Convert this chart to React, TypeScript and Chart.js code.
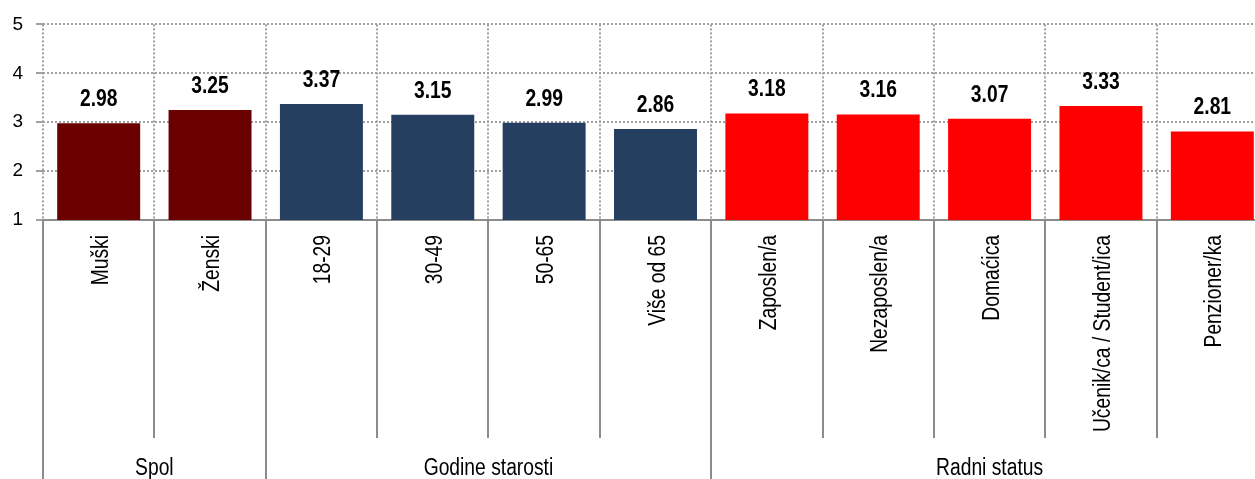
import React, { useEffect, useRef } from "react";
import { Chart, registerables } from "chart.js";

Chart.register(...registerables);

const categories = [
  "Muški", "Ženski",
  "18-29", "30-49", "50-65", "Više od 65",
  "Zaposlen/a", "Nezaposlen/a", "Domaćica", "Učenik/ca / Student/ica", "Penzioner/ka",
];
const values = [2.98, 3.25, 3.37, 3.15, 2.99, 2.86, 3.18, 3.16, 3.07, 3.33, 2.81];
const groupNames = ["Spol", "Godine starosti", "Radni status"];
const groupSizes = [2, 4, 5];
const groupColors = ["#6B0000", "#243F60", "#FF0000"];
const yTicks = [1, 2, 3, 4, 5];

const FONT = "'Liberation Sans', Arial, sans-serif";
const NARROW = 0.82;

const barColors: string[] = [];
groupSizes.forEach((n, g) => {
  for (let i = 0; i < n; i++) barColors.push(groupColors[g]);
});

function narrowText(ctx: any, text: string, x: number, y: number, rotate: boolean, align: string) {
  ctx.save();
  ctx.translate(x, y);
  if (rotate) ctx.rotate(-Math.PI / 2);
  ctx.scale(NARROW, 1);
  ctx.textAlign = align;
  ctx.textBaseline = "alphabetic";
  ctx.fillText(text, 0, 0);
  ctx.restore();
}

const overlayPlugin = {
  id: "overlay",
  afterDatasetsDraw(chart: any) {
    const ctx = chart.ctx;
    const meta = chart.getDatasetMeta(0);
    ctx.save();
    ctx.fillStyle = "#000";
    ctx.font = `bold 23.5px ${FONT}`;
    meta.data.forEach((bar: any, i: number) => {
      narrowText(ctx, values[i].toFixed(2), bar.x, bar.y - 17, false, "center");
    });
    ctx.restore();
  },
  afterDraw(chart: any) {
    const ctx = chart.ctx;
    const xs = chart.scales.x;
    const area = chart.chartArea;
    const w = xs.getPixelForValue(1) - xs.getPixelForValue(0);
    const boundary = (i: number) => xs.getPixelForValue(i) - w / 2;
    const groupStarts = new Set<number>();
    let acc = 0;
    groupStarts.add(0);
    groupSizes.forEach((n) => {
      acc += n;
      groupStarts.add(acc);
    });
    ctx.save();
    ctx.strokeStyle = "#8c8c8c";
    ctx.lineWidth = 2;
    for (let i = 0; i <= categories.length; i++) {
      const x = Math.round(boundary(i));
      const yEnd = groupStarts.has(i) ? chart.height : 438;
      ctx.beginPath();
      ctx.moveTo(x, area.bottom);
      ctx.lineTo(x, yEnd);
      ctx.stroke();
    }
    ctx.fillStyle = "#000";
    ctx.font = `23.5px ${FONT}`;
    categories.forEach((c, i) => {
      narrowText(ctx, c, xs.getPixelForValue(i) + 9, area.bottom + 15, true, "right");
    });
    let start = 0;
    groupSizes.forEach((n, g) => {
      const x0 = boundary(start);
      const x1 = boundary(start + n);
      narrowText(ctx, groupNames[g], (x0 + x1) / 2, 475, false, "center");
      start += n;
    });
    ctx.restore();
  },
};

export default function App() {
  const ref = useRef<HTMLCanvasElement | null>(null);
  useEffect(() => {
    if (!ref.current) return;
    const chart = new Chart(ref.current, {
      type: "bar",
      data: {
        labels: categories,
        datasets: [
          {
            data: values,
            backgroundColor: barColors,
            borderWidth: 0,
            barPercentage: 0.745,
            categoryPercentage: 1,
          },
        ],
      },
      options: {
        responsive: false,
        animation: false,
        devicePixelRatio: 1,
        layout: { padding: { top: 19, right: 2, left: 0, bottom: 0 } },
        plugins: { legend: { display: false }, tooltip: { enabled: false } },
        scales: {
          x: {
            offset: true,
            grid: {
              display: true,
              offset: true,
              drawTicks: false,
              color: "#a0a0a0",
              lineWidth: 2,
            },
            border: { display: true, color: "#8c8c8c", width: 2, dash: [2, 2] },
            ticks: { display: false, autoSkip: false },
            afterFit(scale: any) {
              scale.height = 259;
            },
          },
          y: {
            min: 1,
            max: 5,
            afterBuildTicks(scale: any) {
              scale.ticks = yTicks.map((v) => ({ value: v }));
            },
            grid: { color: "#a0a0a0", lineWidth: 2, tickLength: 7 },
            border: { display: false, dash: [2, 2] },
            ticks: {
              padding: 13,
              color: "#000",
              font: { family: FONT, size: 19 },
            },
            afterFit(scale: any) {
              scale.width = 43;
            },
          },
        },
      },
      plugins: [overlayPlugin],
    });
    return () => chart.destroy();
  }, []);
  return (
    <div
      style={{
        position: "absolute",
        left: 0,
        top: 0,
        width: 1255,
        height: 479,
        overflow: "hidden",
        background: "#fff",
      }}
    >
      <canvas ref={ref} width={1270} height={479} style={{ display: "block" }} />
    </div>
  );
}
